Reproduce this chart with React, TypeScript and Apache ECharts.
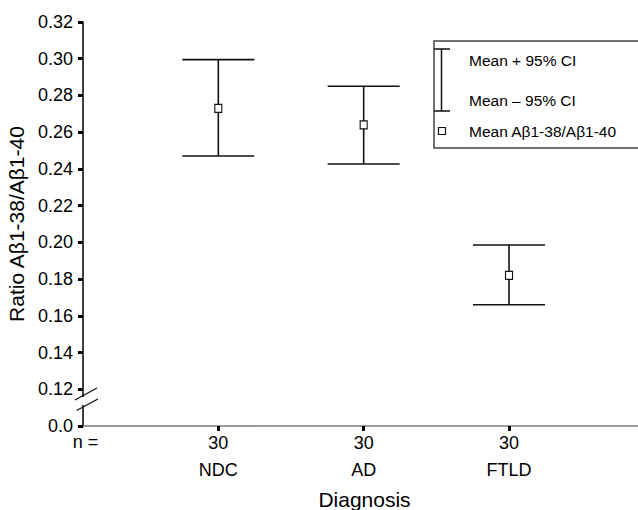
import React, { useEffect, useRef } from "react";
import * as echarts from "echarts";

const categories = ["NDC", "AD", "FTLD"];
const nCounts = [30, 30, 30];
const means = [0.273, 0.264, 0.182];
const lowerCI = [0.247, 0.2427, 0.166];
const upperCI = [0.2995, 0.285, 0.1986];
const yZeroLabel = "0.0";

const FONT = "'Liberation Sans', Arial, Helvetica, sans-serif";

export default function App() {
  const ref = useRef<HTMLDivElement>(null);
  useEffect(() => {
    if (!ref.current) return;
    const chart = echarts.init(ref.current, null, { renderer: "svg" });
    const positions = categories.map((_, i) => i + 1);
    const option: any = {
      animation: false,
      backgroundColor: "#fff",
      textStyle: { fontFamily: FONT },
      grid: { left: 83, right: 0, top: 22, bottom: 84, containLabel: false, outerBoundsMode: "none" },
      xAxis: {
        type: "value",
        min: 0.069,
        max: 3.8875,
        name: "Diagnosis",
        nameLocation: "middle",
        nameGap: 63,
        nameTextStyle: { fontSize: 21, color: "#000", fontFamily: FONT, padding: [0, 0, 0, 8] },
        axisLine: { show: true, lineStyle: { color: "#777", width: 1.5 } },
        axisTick: { show: true, customValues: positions, length: 5, lineStyle: { color: "#000", width: 3 } },
        axisLabel: {
          customValues: positions,
          margin: 3,
          fontSize: 18,
          lineHeight: 27,
          color: "#000",
          fontFamily: FONT,
          formatter: (v: number) => {
            const i = Math.round(v) - 1;
            return `${nCounts[i]}\n${categories[i]}`;
          },
        },
        splitLine: { show: false },
      },
      yAxis: {
        type: "value",
        min: 0.1,
        max: 0.32,
        interval: 0.02,
        name: "Ratio Aβ1-38/Aβ1-40",
        nameLocation: "middle",
        nameGap: 56,
        nameTextStyle: { fontSize: 21, color: "#000", fontFamily: FONT },
        axisLine: { show: true, lineStyle: { color: "#000", width: 1.5 } },
        axisTick: { show: true, length: 5, lineStyle: { color: "#000", width: 3 } },
        axisLabel: {
          margin: 10,
          fontSize: 18,
          color: "#000",
          fontFamily: FONT,
          formatter: (v: number) => (v < 0.11 ? yZeroLabel : v.toFixed(2)),
        },
        splitLine: { show: false },
      },
      series: [
        {
          type: "custom",
          name: "Mean ± 95% CI",
          data: positions.map((x, i) => [x, lowerCI[i], upperCI[i]]),
          renderItem: (params: any, api: any) => {
            const x = api.value(0);
            const pHi = api.coord([x, api.value(2)]);
            const pLo = api.coord([x, api.value(1)]);
            const hw = 36;
            const st = { stroke: "#111", lineWidth: 1.6 };
            return {
              type: "group",
              children: [
                { type: "line", shape: { x1: pHi[0], y1: pHi[1], x2: pLo[0], y2: pLo[1] }, style: st },
                { type: "line", shape: { x1: pHi[0] - hw, y1: pHi[1], x2: pHi[0] + hw, y2: pHi[1] }, style: st },
                { type: "line", shape: { x1: pLo[0] - hw, y1: pLo[1], x2: pLo[0] + hw, y2: pLo[1] }, style: st },
              ],
            };
          },
          z: 2,
        },
        {
          type: "scatter",
          name: "Mean Aβ1-38/Aβ1-40",
          data: positions.map((x, i) => [x, means[i]]),
          symbol: "rect",
          symbolSize: [7, 8],
          itemStyle: { color: "#fff", borderColor: "#111", borderWidth: 1.2, opacity: 1 },
          z: 3,
        },
      ],
      graphic: [
        // axis break
        { type: "rect", shape: { x: 80, y: 397, width: 6, height: 8 }, style: { fill: "#fff" }, z: 20 },
        { type: "line", shape: { x1: 75, y1: 400, x2: 97, y2: 388 }, style: { stroke: "#111", lineWidth: 1.3 }, z: 21 },
        { type: "line", shape: { x1: 76.5, y1: 410.5, x2: 98, y2: 399 }, style: { stroke: "#111", lineWidth: 1.3 }, z: 21 },
        // n =
        {
          type: "text",
          x: 85.5,
          y: 442,
          style: { text: "n =", fontSize: 18, fill: "#000", fontFamily: FONT, align: "center", verticalAlign: "middle" },
          z: 21,
        },
        // legend box
        {
          type: "rect",
          shape: { x: 434, y: 41, width: 220, height: 107 },
          style: { fill: "#fff", stroke: "#444", lineWidth: 1.5 },
          z: 20,
        },
        { type: "line", shape: { x1: 441.5, y1: 49, x2: 441.5, y2: 111 }, style: { stroke: "#111", lineWidth: 1.5 }, z: 21 },
        { type: "line", shape: { x1: 434, y1: 49, x2: 450, y2: 49 }, style: { stroke: "#111", lineWidth: 1.5 }, z: 21 },
        { type: "line", shape: { x1: 434, y1: 111, x2: 450, y2: 111 }, style: { stroke: "#111", lineWidth: 1.5 }, z: 21 },
        { type: "rect", shape: { x: 438.5, y: 127.5, width: 7, height: 7 }, style: { fill: "#fff", stroke: "#111", lineWidth: 1.2 }, z: 21 },
        {
          type: "text",
          x: 469,
          y: 60,
          style: { text: "Mean + 95% CI", fontSize: 15.5, fill: "#000", fontFamily: FONT, verticalAlign: "middle" },
          z: 21,
        },
        {
          type: "text",
          x: 469,
          y: 100,
          style: { text: "Mean – 95% CI", fontSize: 15.5, fill: "#000", fontFamily: FONT, verticalAlign: "middle" },
          z: 21,
        },
        {
          type: "text",
          x: 469,
          y: 131,
          style: { text: "Mean Aβ1-38/Aβ1-40", fontSize: 15.5, fill: "#000", fontFamily: FONT, verticalAlign: "middle" },
          z: 21,
        },
      ],
    };
    chart.setOption(option);
    return () => chart.dispose();
  }, []);
  return (
    <div
      ref={ref}
      style={{ position: "fixed", left: 0, top: 0, width: 638, height: 510, background: "#fff" }}
    />
  );
}
